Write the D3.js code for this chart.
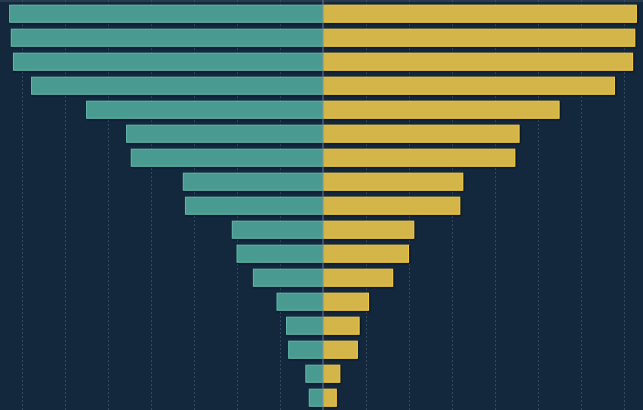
<!DOCTYPE html>
<html>
<head>
<meta charset="utf-8">
<script src="https://cdn.jsdelivr.net/npm/d3@7"></script>
<style>
  html, body { margin: 0; padding: 0; background: #14283d; }
  svg { display: block; }
</style>
</head>
<body>
<svg id="chart" width="643" height="410"></svg>
<script>
// Data (gridline step = 10 units)
const categories = ["r1","r2","r3","r4","r5","r6","r7","r8","r9","r10","r11","r12","r13","r14","r15","r16","r17"];
const leftValues  = [73.0, 72.6, 72.1, 67.9, 55.1, 45.8, 44.7, 32.6, 32.1, 21.2, 20.1, 16.3, 10.8, 8.6, 8.1, 4.1, 3.3];
const rightValues = [73.0, 72.6, 72.1, 67.9, 55.0, 45.7, 44.7, 32.6, 31.9, 21.2, 20.0, 16.3, 10.7, 8.5, 8.1, 4.0, 3.2];
const gridTicks = [-70, -60, -50, -40, -30, -20, -10, 10, 20, 30, 40, 50, 60, 70];

const W = 643, H = 410;
const svg = d3.select("#chart");

const x = d3.scaleLinear().domain([-75, 75]).range([323 - 322.5, 323 + 322.5]);
const y = d3.scaleBand().domain(categories).range([1.7, 409.7]).paddingInner(0.25).paddingOuter(0.125);

const defs = svg.append("defs");
const f = defs.append("filter").attr("id", "shadow").attr("x", "-5%").attr("y", "-30%").attr("width", "110%").attr("height", "160%");
f.append("feDropShadow").attr("dx", 0.8).attr("dy", 0.8).attr("stdDeviation", 0.8)
  .attr("flood-color", "#060f1a").attr("flood-opacity", 0.9);

svg.append("rect").attr("width", W).attr("height", H).attr("fill", "#14283d");

// gridlines via axis
const grid = svg.append("g").attr("transform", "translate(0,0)")
  .call(d3.axisBottom(x).tickValues(gridTicks).tickSize(H).tickFormat(""));
grid.select(".domain").remove();
grid.selectAll(".tick line")
  .attr("stroke", "#34485d").attr("stroke-width", 1).attr("stroke-dasharray", "2,2");

// top border line
svg.append("line").attr("x1", 0).attr("x2", W).attr("y1", 1).attr("y2", 1)
  .attr("stroke", "#3b4d61").attr("stroke-width", 1.2);

const bars = svg.append("g").attr("filter", "url(#shadow)");

bars.selectAll("rect.left").data(categories).join("rect")
  .attr("class", "left")
  .attr("x", (d, i) => x(-leftValues[i]) + 0.5)
  .attr("y", d => y(d) + 0.5)
  .attr("width", (d, i) => x(0) - x(-leftValues[i]) - 1)
  .attr("height", y.bandwidth() - 1)
  .attr("fill", "#4a9a91")
  .attr("stroke", "#62b7aa")
  .attr("stroke-width", 1);

bars.selectAll("rect.right").data(categories).join("rect")
  .attr("class", "right")
  .attr("x", x(0) + 0.5)
  .attr("y", d => y(d) + 0.5)
  .attr("width", (d, i) => x(rightValues[i]) - x(0) - 1)
  .attr("height", y.bandwidth() - 1)
  .attr("fill", "#d4b54a")
  .attr("stroke", "#f1c942")
  .attr("stroke-width", 1);

// center line
svg.append("line").attr("x1", x(0)).attr("x2", x(0)).attr("y1", 0).attr("y2", H)
  .attr("stroke", "#6b7b8b").attr("stroke-width", 1);
</script>
</body>
</html>
